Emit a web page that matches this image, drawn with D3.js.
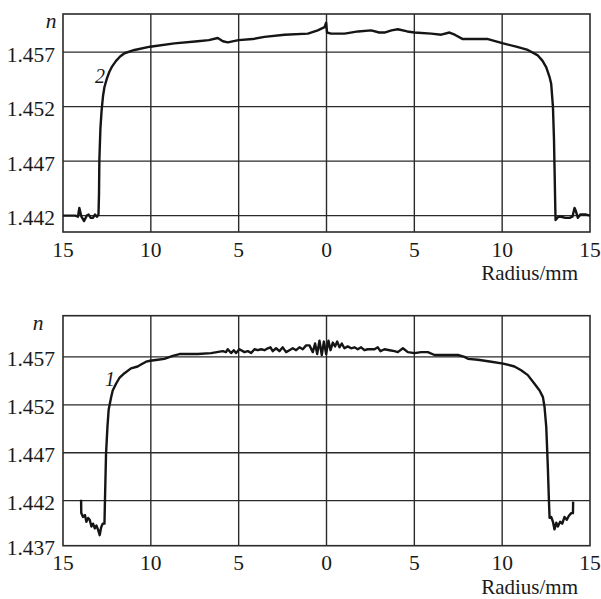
<!DOCTYPE html>
<html>
<head>
<meta charset="utf-8">
<script src="https://cdn.jsdelivr.net/npm/d3@7"></script>
<style>
  body { margin: 0; background: #fff; }
</style>
</head>
<body>
<div id="chart"></div>
<script>
// radius ticks (left half is shown as positive radius)
const radiusTicks = [-15, -10, -5, 0, 5, 10, 15];

// curve 2 (upper panel): radius/mm, refractive index n
const radius2 = [
  -15, -14.3, -14.15, -14.07, -13.95, -13.8, -13.65, -13.54, -13.42, -13.3, -13.18, -13.07,
  -12.98, -12.95, -12.93, -12.87, -12.8, -12.72, -12.64, -12.5, -12.36, -12.2, -11.98, -11.75,
  -11.5, -10.93, -10.04, -8.66, -7.33, -6.7, -6.19, -5.9, -5.62, -5.01, -4.2, -3.53, -2.39,
  -1.06, -0.5, -0.11, -0.02, 0.03, 0.26, 1.03, 1.8, 2.54, 3.0, 3.3, 3.7, 4.06, 4.6, 5.01,
  5.96, 6.53, 7.0, 7.3, 7.76, 9.19, 10.06, 10.8, 11.46, 12.03, 12.3, 12.51, 12.7, 12.79,
  12.89, 12.95, 12.98, 13.02, 13.04, 13.2, 13.36, 13.6, 13.84, 14.0, 14.12, 14.2, 14.31,
  14.45, 14.78, 15
];
const index2 = [
  1.4420, 1.4420, 1.4419, 1.4427, 1.4419, 1.4415, 1.4420, 1.4421, 1.4418, 1.4418, 1.4421, 1.4419,
  1.4421, 1.4440, 1.4471, 1.4500, 1.4517, 1.4530, 1.4538, 1.4546, 1.4552, 1.4557, 1.4562, 1.4566,
  1.4569, 1.4572, 1.4575, 1.4578, 1.4580, 1.4581, 1.4583, 1.4580, 1.4579, 1.4581, 1.4582, 1.4584, 1.4586,
  1.4587, 1.4590, 1.4593, 1.4597, 1.4588, 1.4587, 1.4587, 1.4589, 1.4590, 1.4588, 1.4588, 1.4590, 1.4591, 1.4589, 1.4588,
  1.4587, 1.4586, 1.4588, 1.4586, 1.4582, 1.4582, 1.4578, 1.4575, 1.4572, 1.4567, 1.4562, 1.4556, 1.4547, 1.4541,
  1.4520, 1.4490, 1.4465, 1.4430, 1.4416, 1.4419, 1.4419, 1.4418, 1.4418, 1.4419, 1.4427, 1.4424, 1.4418,
  1.4421, 1.4421, 1.4420
];

// curve 1 (lower panel)
const radius1 = [
  -13.97, -13.96, -13.86, -13.75, -13.67, -13.57, -13.48, -13.38, -13.29, -13.19, -13.1, -13.01,
  -12.91, -12.83, -12.74, -12.64, -12.61, -12.55, -12.47, -12.4, -12.26, -12.17, -11.98, -11.79,
  -11.5, -11.13, -10.75, -10.56, -10.27, -10.04, -9.61, -9.23, -8.75, -8.37, -7.33, -6.57,
  -5.91, -5.72, -5.62, -5.43, -5.28, -5.15, -4.96, -4.67, -4.48, -4.29, -4.1, -3.91, -3.72,
  -3.53, -3.34, -3.19, -3.06, -2.87, -2.68, -2.49, -2.3, -2.11, -1.92, -1.73, -1.54, -1.35,
  -1.16, -0.97, -0.78, -0.65, -0.53, -0.4, -0.27, -0.15, -0.02, 0.11, 0.23, 0.36, 0.49, 0.61,
  0.74, 0.87, 1.02, 1.21, 1.4, 1.59, 1.78, 1.97, 2.16, 2.35, 2.73, 2.92, 3.07, 3.3, 3.59,
  3.87, 4.06, 4.35, 4.63, 5.01, 5.39, 5.77, 6.15, 6.72, 7.48, 7.86, 8.05, 8.62, 9.38, 10.06,
  10.7, 11.08, 11.46, 11.84, 12.13, 12.32, 12.41, 12.51, 12.6, 12.66, 12.7, 12.79, 12.89,
  12.98, 13.08, 13.17, 13.3, 13.42, 13.55, 13.68, 13.79, 13.93, 14.03, 14.04
];
const index1 = [
  1.4421, 1.4407, 1.4403, 1.4405, 1.4398, 1.4402, 1.4400, 1.4393, 1.4396, 1.4391, 1.4394, 1.4390,
  1.4384, 1.4392, 1.4396, 1.4396, 1.4421, 1.4469, 1.4497, 1.4515, 1.4528, 1.4535, 1.4542, 1.4548,
  1.4553, 1.4558, 1.4560, 1.4562, 1.4565, 1.4566, 1.4567, 1.4568, 1.4571, 1.4573, 1.4573, 1.4574,
  1.4576, 1.4575, 1.4578, 1.4574, 1.4577, 1.4574, 1.4578, 1.4575, 1.4576, 1.4574, 1.4578, 1.4577, 1.4578,
  1.4577, 1.4579, 1.4580, 1.4576, 1.4579, 1.4576, 1.4580, 1.4575, 1.4577, 1.4579, 1.4577, 1.4580, 1.4578,
  1.4582, 1.4582, 1.4575, 1.4584, 1.4573, 1.4587, 1.4572, 1.4586, 1.4573, 1.4587, 1.4577, 1.4585, 1.4581, 1.4586,
  1.4580, 1.4584, 1.4579, 1.4581, 1.4579, 1.4580, 1.4578, 1.4580, 1.4577, 1.4578, 1.4578, 1.4580, 1.4576, 1.4578, 1.4577,
  1.4576, 1.4575, 1.4579, 1.4575, 1.4574, 1.4575, 1.4575, 1.4572, 1.4572, 1.4572, 1.4570, 1.4568, 1.4567, 1.4565, 1.4563,
  1.4560, 1.4556, 1.4551, 1.4542, 1.4535, 1.4528, 1.4518, 1.4497, 1.4455, 1.4421, 1.4402, 1.4403, 1.4398,
  1.4390, 1.4397, 1.4393, 1.4398, 1.4396, 1.4403, 1.4400, 1.4404, 1.4407, 1.4407, 1.4419
];

const ticks2 = [1.442, 1.447, 1.452, 1.457];
const ticks1 = [1.437, 1.442, 1.447, 1.452, 1.457];

const FONT = "'Liberation Serif', 'DejaVu Serif', serif";

const svg = d3.select('#chart').append('svg')
  .attr('width', 601)
  .attr('height', 599)
  .attr('font-family', FONT);

const x = d3.scaleLinear().domain([-15, 15]).range([63, 590]);

function addText(g, opts) {
  return g.append('text')
    .attr('font-family', FONT)
    .attr('fill', '#1a1a1a')
    .attr('font-size', opts.size || 21.5)
    .attr('font-style', opts.italic ? 'italic' : 'normal')
    .attr('text-anchor', opts.anchor || 'middle')
    .attr('x', opts.x).attr('y', opts.y)
    .text(opts.text);
}

function drawPanel({ top, bottom, domain, ticks, xs, ys, label, labelPos, nOffset }) {
  const y = d3.scaleLinear().domain(domain).range([bottom, top]);
  const g = svg.append('g');

  // grid
  g.append('g').selectAll('line')
    .data(radiusTicks.slice(1, -1))
    .enter().append('line')
    .attr('x1', d => x(d)).attr('x2', d => x(d))
    .attr('y1', top).attr('y2', bottom)
    .attr('stroke', '#2a2a2a').attr('stroke-width', 1.4);

  g.append('g').selectAll('line')
    .data(ticks.filter(t => y(t) < bottom - 2))
    .enter().append('line')
    .attr('x1', x(-15)).attr('x2', x(15))
    .attr('y1', d => y(d)).attr('y2', d => y(d))
    .attr('stroke', '#2a2a2a').attr('stroke-width', 1.4);

  // frame
  g.append('rect')
    .attr('x', x(-15)).attr('y', top)
    .attr('width', x(15) - x(-15)).attr('height', bottom - top)
    .attr('fill', 'none').attr('stroke', '#2a2a2a').attr('stroke-width', 1.6);

  // y tick labels
  ticks.forEach(t => {
    addText(g, { x: 55, y: Math.min(y(t), bottom) + 9.5, anchor: 'end', text: d3.format('.3f')(t) });
  });

  // x tick labels
  radiusTicks.forEach(r => {
    addText(g, { x: x(r), y: bottom + 24.5, text: Math.abs(r) });
  });

  addText(g, { x: 578, y: bottom + 48, anchor: 'end', size: 21, text: 'Radius/mm' });
  addText(g, { x: nOffset, y: top + 14, italic: true, text: 'n' });

  // curve
  const pts = xs.map((r, i) => [r, ys[i]]);
  g.append('path')
    .datum(pts)
    .attr('fill', 'none')
    .attr('stroke', '#151515')
    .attr('stroke-width', 2.4)
    .attr('stroke-linejoin', 'round')
    .attr('d', d3.line().x(d => x(d[0])).y(d => y(d[1])));

  addText(g, { x: labelPos[0], y: labelPos[1], italic: true, size: 20, text: label });
}

drawPanel({
  top: 14, bottom: 232, domain: [1.4405, 1.4605], ticks: ticks2,
  xs: radius2, ys: index2, label: '2', labelPos: [100, 83], nOffset: 51
});

drawPanel({
  top: 315.7, bottom: 545.7, domain: [1.4373, 1.4613], ticks: ticks1,
  xs: radius1, ys: index1, label: '1', labelPos: [110, 386], nOffset: 38
});
</script>
</body>
</html>
